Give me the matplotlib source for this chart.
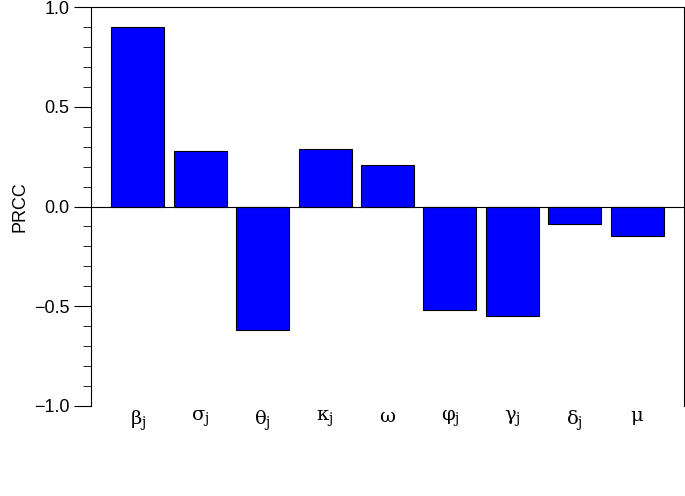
import numpy as np
import matplotlib
matplotlib.use('Agg')
import matplotlib.pyplot as plt
from matplotlib.ticker import MultipleLocator

params = [r'$\mathrm{\beta_j}$', r'$\mathrm{\sigma_j}$', r'$\mathrm{\theta_j}$',
          r'$\mathrm{\kappa_j}$', r'$\mathrm{\omega}$', r'$\mathrm{\varphi_j}$',
          r'$\mathrm{\gamma_j}$', r'$\mathrm{\delta_j}$', r'$\mathrm{\mu}$']
prcc = [0.90, 0.28, -0.62, 0.29, 0.21, -0.52, -0.55, -0.09, -0.15]

plt.rcParams['font.family'] = ['Liberation Sans', 'DejaVu Sans']
plt.rcParams['mathtext.fontset'] = 'dejavuserif'

fig = plt.figure(figsize=(6.85, 4.96), dpi=100)
ax = fig.add_axes([91/685, 90/496, (684-91)/685, (496-7-90)/496])
x = np.arange(len(params))
ax.bar(x, prcc, width=0.85, color='#0000ff', edgecolor='black', linewidth=0.8)
ax.axhline(0, color='black', linewidth=0.8)
ax.set_xlim(-0.75, 8.75)
ax.set_ylim(-1.0, 1.0)
ax.set_xticks(x)
ax.set_xticklabels(params, fontsize=14)
ax.tick_params(axis='x', length=0, pad=2)
ax.yaxis.set_major_locator(MultipleLocator(0.5))
ax.yaxis.set_minor_locator(MultipleLocator(0.1))
ax.yaxis.set_major_formatter(matplotlib.ticker.FuncFormatter(lambda v, p: f'{v:.1f}'.replace('-', '\u2212')))
ax.tick_params(axis='y', which='major', length=12, labelsize=13)
ax.tick_params(axis='y', which='minor', length=6)
ax.spines['bottom'].set_visible(False)
ax.set_ylabel('PRCC', fontsize=13)
ax.set_xlabel('Parameters', fontsize=13, labelpad=48)
fig.savefig('out.png', dpi=100)
